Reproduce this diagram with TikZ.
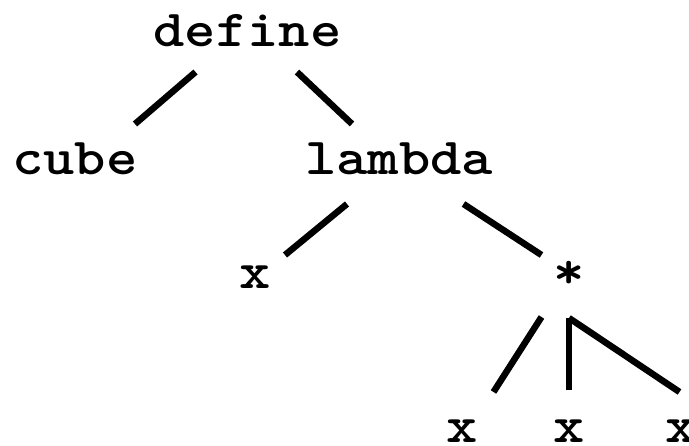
\documentclass[tikz,border=0pt]{standalone}
\usepackage{fontspec}
\begin{document}
\begin{tikzpicture}[x=1pt,y=1pt,
  lbl/.style={inner sep=0pt, anchor=base, xscale=1.146, transform shape, font=\fontsize{52}{60}\selectfont\ttfamily\bfseries},
  edge/.style={line width=6.5pt}]
\useasboundingbox (0,0) rectangle (689,446);
\node[lbl] (define) at (247.5,399) {define};
\node[lbl] (cube)   at (75,271) {cube};
\node[lbl] (lambda) at (399,271) {lambda};
\node[lbl] (xa)     at (255,157) {x};
\node[lbl] (star)   at (569,157) {*};
\node[lbl] (xb)     at (462,3) {x};
\node[lbl] (xc)     at (569,3) {x};
\node[lbl] (xd)     at (681,3) {x};
\draw[edge] ([shift={(-52,-25)}]define.base) -- ([shift={(60,51)}]cube.base);
\draw[edge] ([shift={(49.5,-25)}]define.base) -- ([shift={(-47,51)}]lambda.base);
\draw[edge] ([shift={(-52,-29)}]lambda.base) -- ([shift={(30,34)}]xa.base);
\draw[edge] ([shift={(64.5,-29)}]lambda.base) -- ([shift={(-27.5,34)}]star.base);
\draw[edge] ([shift={(-27.5,-28)}]star.base) -- ([shift={(31.5,51)}]xb.base);
\draw[edge] ([shift={(0,53)}]xc.base) -- ([shift={(0,-29)}]star.base);
\draw[edge] ([shift={(0,-29)}]star.base) -- ([shift={(-1.5,51)}]xd.base);
\end{tikzpicture}
\end{document}
